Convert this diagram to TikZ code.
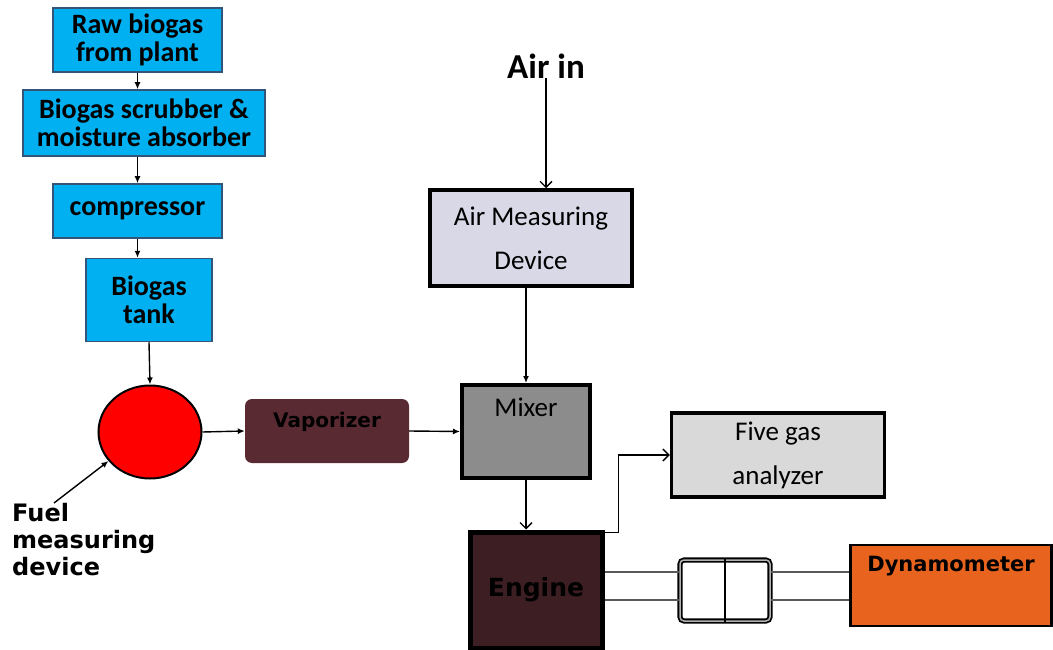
\documentclass[tikz,border=0pt]{standalone}
\usepackage{fontspec}
\setmainfont{Carlito}
\newfontfamily\verdana{DejaVu Sans}
\usetikzlibrary{arrows.meta,shapes.geometric}

\definecolor{gasblue}{HTML}{00B0F0}
\definecolor{gasedge}{HTML}{33557A}
\definecolor{vapred}{HTML}{5A2A33}
\definecolor{mixgray}{HTML}{8C8C8C}
\definecolor{airlav}{HTML}{D8D8E6}
\definecolor{fgagray}{HTML}{D9D9D9}
\definecolor{engred}{HTML}{3D1E22}
\definecolor{dynorange}{HTML}{E8641E}

\begin{document}
\begin{tikzpicture}
  [x=1pt,y=-1pt,
   every node/.style={inner sep=0pt,align=center},
   gasbox/.style={draw=gasedge,line width=1.5pt,fill=gasblue,font=\fontsize{28}{28}\selectfont\bfseries},
   unit/.style={draw,line width=3.5pt,font=\fontsize{27}{44}\selectfont},
   vfont/.style={font=\verdana\bfseries\fontsize{#1}{27}\selectfont},
   flow/.style={-{Latex[length=7pt,width=6pt]},line width=1.4pt},
   feed/.style={-{Straight Barb[length=6pt,width=12pt]},line width=1.4pt},
   shaft/.style={draw=gray!70!black,line width=1.5pt}]
  \useasboundingbox (0,0) rectangle (1053,650);

  % biogas supply chain
  \node[gasbox,minimum width=169,minimum height=64] (raw) at (137.5,40) {Raw biogas\\from plant};
  \node[gasbox,minimum width=242,minimum height=66] (scr) at (144,123) {Biogas scrubber \&\\moisture absorber};
  \node[gasbox,minimum width=169,minimum height=54] (cmp) at (137.5,211) {compressor};
  \node[gasbox,minimum width=126,minimum height=83] (tnk) at (149,300) {Biogas\\tank};
  \node[ellipse,draw,line width=2pt,fill=red,minimum width=103,minimum height=93] (fmd) at (150,432) {};
  \node[vfont=24,align=left,anchor=north west] (fuel) at (12,503) {Fuel\\measuring\\device};

  % air side
  \node[font=\fontsize{35}{40}\selectfont\bfseries] (air) at (546,66) {Air in};
  \node[unit,fill=airlav,minimum width=202,minimum height=96] (amd) at (531,238) {Air Measuring\\Device};

  \node[fill=vapred,rounded corners=7pt,minimum width=164,minimum height=64,
        label={[vfont=20,yshift=9pt]center:Vaporizer}] (vap) at (327,431) {};
  \node[unit,line width=4pt,fill=mixgray,minimum width=128,minimum height=93,
        label={[font=\fontsize{27}{30}\selectfont,yshift=24pt]center:Mixer}] (mix) at (526,431.5) {};
  \node[unit,fill=fgagray,minimum width=213,minimum height=84] (fga) at (778,455) {Five gas\\analyzer};

  % engine test bed
  \node[draw,line width=5pt,fill=engred,minimum width=132,minimum height=116,vfont=25] (eng) at (536,590) {Engine};
  \node[draw,line width=1.8pt,double=gray!60,double distance=1.5pt,rounded corners=4pt,
        fill=white,minimum width=90,minimum height=61] (cpl) at (725,590.5) {};
  \node[draw,line width=2.5pt,fill=dynorange,minimum width=201,minimum height=81,
        label={[vfont=21,yshift=19pt]center:Dynamometer}] (dyn) at (951,585.5) {};

  \foreach \from/\to/\at in {raw/scr/raw, scr/cmp/cmp, cmp/tnk/cmp}
    \draw[flow] (\from.south -| \at) -- (\to.north -| \at);
  \draw[flow] (tnk.south) -- (fmd.north);
  \draw[flow] ([xshift=42pt]fuel.north west) -- (fmd.215);
  \draw[flow] (fmd.east) -- (vap.west);
  \draw[flow] (vap.east) -- (mix.west);
  \draw[feed] (air.south) -- (air.south |- amd.north);
  \draw[flow] (amd.south -| mix.north) -- (mix.north);
  \draw[feed] (mix.south) -- (mix.south |- eng.north);
  \draw[feed] ([yshift=-3pt]eng.north east) -- ++(14,0) |- (fga.west);

  % shaft through the coupling
  \coordinate (s1) at ([yshift=18pt]eng.east);
  \coordinate (s2) at ([yshift=-10pt]eng.east);
  \foreach \s in {s1,s2} {
    \draw[shaft] (\s) -- (\s -| cpl.west);
    \draw[shaft] (\s -| cpl.east) -- (\s -| dyn.west);
  }
  \draw[line width=1.2pt] (cpl.north) -- (cpl.south);
\end{tikzpicture}
\end{document}
